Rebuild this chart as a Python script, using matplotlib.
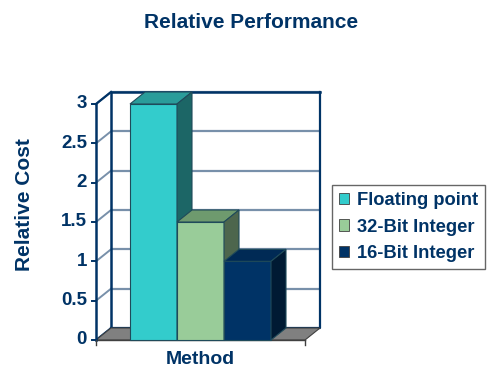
import matplotlib
matplotlib.use("Agg")
import matplotlib.pyplot as plt
from matplotlib.patches import Polygon, Rectangle, Patch

# Data
series = ["Floating point", "32-Bit Integer", "16-Bit Integer"]
values = [3.0, 1.5, 1.0]
category = "Method"
yticks = [0, 0.5, 1, 1.5, 2, 2.5, 3]
ytick_labels = ["0", "0.5", "1", "1.5", "2", "2.5", "3"]

# Styling
front_colors = ["#33CCCC", "#99CC99", "#003366"]
top_colors = ["#2A9C9A", "#6E9A6E", "#002A55"]
side_colors = ["#1C6666", "#4D664D", "#001A33"]
navy = "#003366"
grid_color = "#7890AA"
floor_color = "#808080"

W, H, DPI = 4.87, 3.70, 100
fig = plt.figure(figsize=(W, H), dpi=DPI)
plt.rcParams["font.family"] = ["Liberation Sans", "DejaVu Sans"]

# Front plane of the 3-D box
ax_l, ax_b, ax_w, ax_h = 96, 30, 209, 236  # pixels
ax = fig.add_axes([ax_l / 487, ax_b / 370, ax_w / 487, ax_h / 370])
ymax = 3.0
ax.set_xlim(0, 1)
ax.set_ylim(0, ymax)
ax.axis("off")

# Depth offset expressed in data units (15 px right, 12 px up)
dx = 15 / ax_w * 1.0
dy = 12 / ax_h * ymax

# Back wall
ax.add_patch(Rectangle((dx, dy), 1, ymax, facecolor="white", edgecolor="none",
                       clip_on=False, zorder=1))
for t in yticks[1:]:
    ax.plot([dx, 1 + dx], [t + dy, t + dy], color=grid_color, lw=1.6,
            clip_on=False, zorder=2, solid_capstyle="butt")
# Diagonal grid on the side wall
for t in yticks:
    ax.plot([0, dx], [t, t + dy], color=grid_color if t > 0 else navy, lw=1.4,
            clip_on=False, zorder=2)
# Back wall border
ax.plot([dx, 1 + dx, 1 + dx], [dy, dy, ymax + dy], color=navy, lw=1.6,
        clip_on=False, zorder=3)
ax.plot([dx, dx, 1 + dx], [dy, ymax + dy, ymax + dy], color=navy, lw=1.8,
        clip_on=False, zorder=3)
ax.plot([0, dx], [ymax, ymax + dy], color=navy, lw=1.6, clip_on=False, zorder=3)

# Floor
ax.add_patch(Polygon([(0, 0), (dx, dy), (1 + dx, dy), (1, 0)], closed=True,
                     facecolor=floor_color, edgecolor="#404040", lw=0.8,
                     clip_on=False, zorder=3))

# Y axis line and ticks
ax.plot([0, 0], [0, ymax], color=navy, lw=1.8, clip_on=False, zorder=6)
tick_len = 4 / ax_w
for t, lab in zip(yticks, ytick_labels):
    ax.plot([-tick_len, 0], [t, t], color=navy, lw=1.4, clip_on=False, zorder=6)
    ax.text(-9 / ax_w, t, lab, ha="right", va="center", fontsize=13.5,
            fontweight="bold", color=navy)
# Category boundary ticks on the floor edge
for xb in [0, 1]:
    ax.plot([xb, xb], [0, -5 / ax_h * ymax], color="#404040", lw=1.0,
            clip_on=False, zorder=6)
ax.plot([0, 1], [0, 0], color="#404040", lw=1.0, clip_on=False, zorder=4)

# Bars
bw = (1 - 2 * 34 / ax_w) / len(values)
x0 = 34 / ax_w
edge = "#1F4A5A"
for i, v in enumerate(values):
    xl = x0 + i * bw
    xr = xl + bw
    z = 5 + i
    ax.add_patch(Polygon([(xl, 0), (xr, 0), (xr, v), (xl, v)], closed=True,
                         facecolor=front_colors[i], edgecolor=edge, lw=0.8,
                         clip_on=False, zorder=z))
    ax.add_patch(Polygon([(xl, v), (xr, v), (xr + dx, v + dy), (xl + dx, v + dy)],
                         closed=True, facecolor=top_colors[i], edgecolor=edge,
                         lw=0.8, clip_on=False, zorder=z))
    ax.add_patch(Polygon([(xr, 0), (xr + dx, dy), (xr + dx, v + dy), (xr, v)],
                         closed=True, facecolor=side_colors[i], edgecolor=edge,
                         lw=0.8, clip_on=False, zorder=z))

# Titles
fig.text(251 / 487, 1 - 23 / 370, "Relative Performance", ha="center",
         va="center", fontsize=15, fontweight="bold", color=navy)
fig.text(25 / 487, 1 - 205 / 370, "Relative Cost", ha="center", va="center",
         rotation=90, fontsize=15, fontweight="bold", color=navy)
fig.text(200 / 487, 1 - 360 / 370, category, ha="center", va="center",
         fontsize=14, fontweight="bold", color=navy)

# Legend
handles = [Patch(facecolor=c, edgecolor="#404040", lw=0.6) for c in front_colors]
leg = fig.legend(handles, series, loc="upper left",
                 bbox_to_anchor=(332 / 487, 1 - 185 / 370),
                 frameon=True, fancybox=False, handlelength=0.55,
                 handleheight=0.55, handletextpad=0.45, labelspacing=0.52,
                 borderpad=0.38, borderaxespad=0,
                 prop={"weight": "bold", "size": 13.2})
leg.get_frame().set_edgecolor("#404040")
leg.get_frame().set_linewidth(1.0)
for txt in leg.get_texts():
    txt.set_color(navy)

fig.savefig("out.png", dpi=DPI)
